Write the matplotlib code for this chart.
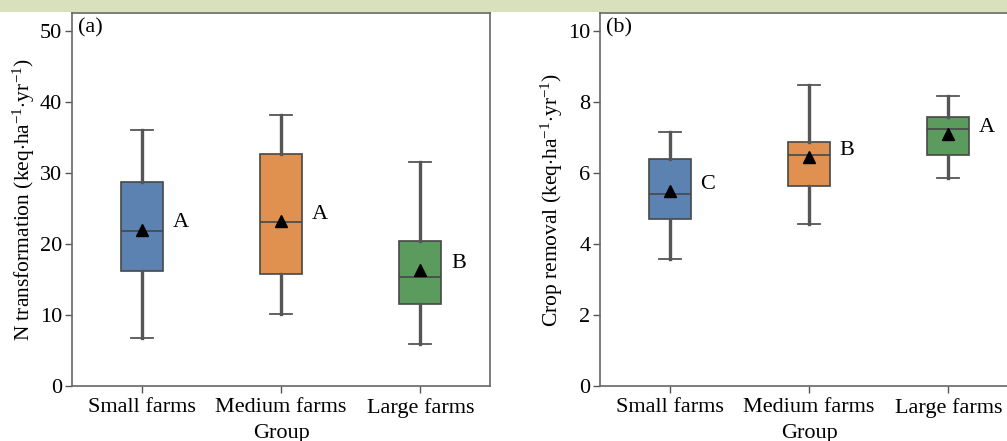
import matplotlib
matplotlib.use("Agg")
import matplotlib.pyplot as plt
from matplotlib.patches import Rectangle

plt.rcParams['font.family'] = ['Liberation Serif', 'DejaVu Serif']
plt.rcParams['mathtext.fontset'] = 'custom'
plt.rcParams['mathtext.rm'] = 'Liberation Serif'
plt.rcParams['mathtext.it'] = 'Liberation Serif:italic'

groups = ["Small farms", "Medium farms", "Large farms"]
colors = ["#5b82b0", "#e0904f", "#5b9c5e"]

# Panel (a): N transformation
a_whislo = [6.7, 10.2, 5.9]
a_q1 = [16.2, 15.7, 11.6]
a_med = [21.8, 23.1, 15.3]
a_q3 = [28.7, 32.6, 20.4]
a_whishi = [36.1, 38.1, 31.5]
a_mean = [22.0, 23.2, 16.3]
a_letters = ["A", "A", "B"]

# Panel (b): Crop removal
b_whislo = [3.58, 4.56, 5.85]
b_q1 = [4.71, 5.64, 6.51]
b_med = [5.41, 6.51, 7.24]
b_q3 = [6.39, 6.87, 7.56]
b_whishi = [7.16, 8.47, 8.17]
b_mean = [5.48, 6.44, 7.08]
b_letters = ["C", "B", "A"]

FS = 16
W, H = 1007, 441
fig = plt.figure(figsize=(W / 100, H / 100), dpi=100)
fig.patches.append(Rectangle((0, (H - 12) / H), 1, 12 / H, transform=fig.transFigure,
                             facecolor="#d8e0bc", edgecolor="none", zorder=0))

ax_a = fig.add_axes([72 / W, (H - 386) / H, 418 / W, 373 / H])
ax_b = fig.add_axes([600 / W, (H - 386) / H, 418 / W, 373 / H])


def draw(ax, whislo, q1, med, q3, whishi, mean, letters, ylim, yticks, ylabel, tag, lpad):
    stats = []
    for i in range(len(groups)):
        stats.append(dict(whislo=whislo[i], q1=q1[i], med=med[i], q3=q3[i],
                          whishi=whishi[i], mean=mean[i], fliers=[], label=groups[i]))
    bp = ax.bxp(stats, positions=range(len(groups)), widths=0.3, showmeans=True,
                patch_artist=True, showfliers=False, capwidths=0.16,
                boxprops=dict(edgecolor="#474747", linewidth=1.2),
                whiskerprops=dict(color="#555555", linewidth=2.4),
                capprops=dict(color="#555555", linewidth=1.3),
                medianprops=dict(color="#474747", linewidth=1.2),
                meanprops=dict(marker="^", markerfacecolor="black", markeredgecolor="black",
                               markersize=8.5))
    for patch, c in zip(bp["boxes"], colors):
        patch.set_facecolor(c)
    for i in range(len(groups)):
        ax.annotate(letters[i], xy=(i + 0.22, mean[i]), xytext=(0, 5), textcoords="offset points",
                    ha="left", va="center", fontsize=FS)
    ax.set_xlim(-0.5, 2.5)
    ax.set_ylim(*ylim)
    ax.set_yticks(yticks)
    ax.set_xticks(range(len(groups)))
    ax.set_xticklabels(groups)
    ax.set_xlabel("Group", fontsize=FS, labelpad=4)
    ax.set_ylabel(ylabel, fontsize=15.5, labelpad=lpad)
    ax.tick_params(axis="both", labelsize=FS, length=5, width=1, color="#555555", pad=2)
    ax.tick_params(axis="x", pad=4)
    for s in ax.spines.values():
        s.set_color("#666666")
        s.set_linewidth(1.2)
    ax.text(0.015, 0.985, tag, transform=ax.transAxes, ha="left", va="top", fontsize=FS)


draw(ax_a, a_whislo, a_q1, a_med, a_q3, a_whishi, a_mean, a_letters, (0, 52.5),
     [0, 10, 20, 30, 40, 50], r"N transformation (keq$\cdot$ha$^{-1}$$\cdot$yr$^{-1}$)", "(a)", 2)
draw(ax_b, b_whislo, b_q1, b_med, b_q3, b_whishi, b_mean, b_letters, (0, 10.5),
     [0, 2, 4, 6, 8, 10], r"Crop removal (keq$\cdot$ha$^{-1}$$\cdot$yr$^{-1}$)", "(b)", 2)

fig.savefig("out.png", dpi=100)
